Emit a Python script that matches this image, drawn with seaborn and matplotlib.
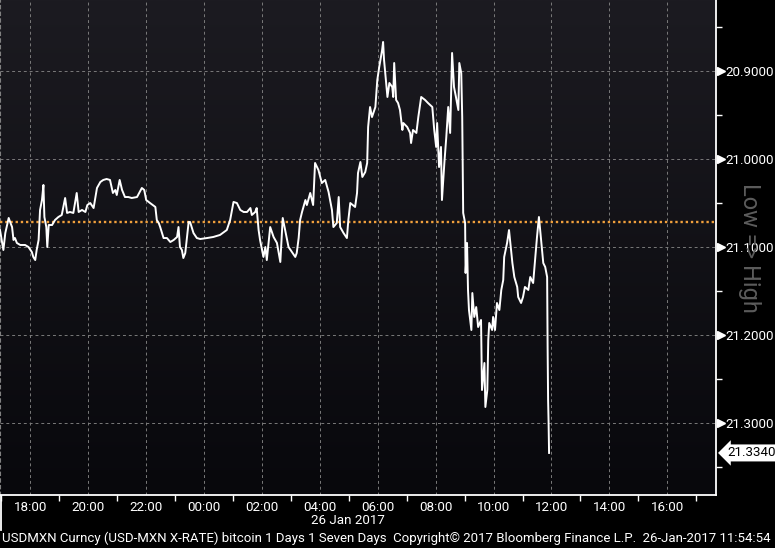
import numpy as np
import pandas as pd
import seaborn as sns
import matplotlib.pyplot as plt
import matplotlib.dates as mdates
from matplotlib.ticker import FixedLocator
from matplotlib.transforms import blended_transform_factory
from matplotlib.colors import LinearSegmentedColormap
from matplotlib.lines import Line2D

plt.rcParams['font.family'] = ['Roboto', 'DejaVu Sans']

# USD-MXN intraday ticks (clock time, 25 Jan evening rolling into 26 Jan)
times = ["16:57", "17:04", "17:08", "17:15", "17:18", "17:22", "17:25", "17:28", "17:32", "17:39",
         "17:49", "17:56", "18:03", "18:06", "18:10", "18:13", "18:17", "18:20", "18:24", "18:27",
         "18:29", "18:33", "18:35", "18:38", "18:45", "18:51", "18:58", "19:05", "19:12", "19:16",
         "19:22", "19:29", "19:36", "19:40", "19:47", "19:54", "19:58", "20:04", "20:11", "20:18",
         "20:25", "20:31", "20:38", "20:45", "20:51", "20:56", "20:59", "21:05", "21:10", "21:16",
         "21:23", "21:30", "21:41", "21:51", "21:56", "22:00", "22:08", "22:19", "22:22", "22:26",
         "22:29", "22:36", "22:43", "22:50", "22:57", "23:04", "23:07", "23:10", "23:14", "23:17",
         "23:21", "23:28", "23:31", "23:38", "23:45", "23:52", "00:06", "00:19", "00:33", "00:47",
         "00:54", "01:01", "01:08", "01:15", "01:22", "01:29", "01:36", "01:39", "01:46", "01:49",
         "01:53", "01:56", "02:03", "02:07", "02:10", "02:17", "02:24", "02:31", "02:38", "02:43",
         "02:48", "02:55", "03:02", "03:09", "03:12", "03:16", "03:19", "03:23", "03:30", "03:33",
         "03:40", "03:46", "03:50", "03:57", "04:04", "04:11", "04:18", "04:25", "04:28", "04:35",
         "04:39", "04:42", "04:49", "04:56", "04:59", "05:03", "05:13", "05:17", "05:19", "05:24",
         "05:28", "05:34", "05:38", "05:40", "05:44", "05:48", "05:55", "05:59", "06:03", "06:09",
         "06:11", "06:13", "06:20", "06:24", "06:30", "06:32", "06:34", "06:38", "06:42", "06:46",
         "06:51", "06:53", "07:01", "07:07", "07:09", "07:13", "07:20", "07:24", "07:30", "07:38",
         "07:44", "07:53", "07:57", "08:01", "08:03", "08:07", "08:11", "08:13", "08:18", "08:22",
         "08:26", "08:30", "08:34", "08:38", "08:42", "08:47", "08:49", "08:53", "08:55", "08:57",
         "09:01", "09:02", "09:05", "09:07", "09:09", "09:14", "09:16", "09:20", "09:24", "09:28",
         "09:34", "09:36", "09:41", "09:43", "09:47", "09:49", "09:51", "09:57", "09:59", "10:03",
         "10:07", "10:12", "10:16", "10:20", "10:22", "10:28", "10:32", "10:39", "10:43", "10:49",
         "10:51", "10:57", "11:01", "11:05", "11:12", "11:16", "11:22", "11:26", "11:30", "11:34",
         "11:39", "11:43", "11:47", "11:51", "11:52", "11:53", "11:54", "11:55"]

rate = [21.0807, 21.1034, 21.0841, 21.0670, 21.0716, 21.0773, 21.0920, 21.0898, 21.0954, 21.0977,
        21.0977, 21.1000, 21.1057, 21.1113, 21.1148, 21.1034, 21.0920, 21.0579, 21.0466, 21.0295,
        21.0659, 21.0773, 21.1000, 21.0750, 21.0750, 21.0693, 21.0659, 21.0636, 21.0443, 21.0613,
        21.0602, 21.0613, 21.0386, 21.0602, 21.0579, 21.0602, 21.0523, 21.0500, 21.0557, 21.0329,
        21.0261, 21.0238, 21.0227, 21.0238, 21.0386, 21.0352, 21.0409, 21.0238, 21.0352, 21.0432,
        21.0432, 21.0443, 21.0432, 21.0329, 21.0352, 21.0466, 21.0500, 21.0545, 21.0693, 21.0727,
        21.0773, 21.0898, 21.0898, 21.0943, 21.0920, 21.0886, 21.0773, 21.1000, 21.1034, 21.1125,
        21.1068, 21.0716, 21.0716, 21.0841, 21.0898, 21.0909, 21.0898, 21.0886, 21.0863, 21.0807,
        21.0693, 21.0488, 21.0500, 21.0579, 21.0602, 21.0602, 21.0557, 21.0636, 21.0602, 21.0557,
        21.0807, 21.0920, 21.1113, 21.1000, 21.1148, 21.0773, 21.0886, 21.0954, 21.1170, 21.0670,
        21.0807, 21.1000, 21.1057, 21.1113, 21.1068, 21.0898, 21.0693, 21.0602, 21.0466, 21.0523,
        21.0386, 21.0523, 21.0045, 21.0125, 21.0273, 21.0238, 21.0375, 21.0579, 21.0773, 21.0727,
        21.0432, 21.0773, 21.0841, 21.0898, 21.0693, 21.0500, 21.0545, 21.0386, 21.0159, 21.0034,
        21.0204, 21.0148, 21.0045, 20.9636, 20.9409, 20.9523, 20.9409, 20.9102, 20.8954, 20.8761,
        20.8670, 20.8875, 20.9295, 20.9136, 20.9182, 20.9295, 20.8909, 20.9329, 20.9363, 20.9443,
        20.9670, 20.9591, 20.9636, 20.9704, 20.9818, 20.9670, 20.9704, 20.9523, 20.9295, 20.9329,
        20.9363, 20.9409, 20.9670, 20.9863, 20.9591, 21.0091, 20.9863, 21.0466, 21.0045, 20.9750,
        20.9409, 20.9704, 20.8795, 20.9182, 20.9295, 20.9443, 20.8909, 20.9023, 20.9523, 21.0613,
        21.0727, 21.1295, 21.0954, 21.1488, 21.1716, 21.1943, 21.1523, 21.1795, 21.1682, 21.1909,
        21.1829, 21.2625, 21.2318, 21.2818, 21.2625, 21.2057, 21.1863, 21.1943, 21.1795, 21.1943,
        21.1636, 21.1716, 21.1488, 21.1375, 21.1113, 21.0954, 21.0807, 21.1182, 21.1341, 21.1454,
        21.1568, 21.1636, 21.1568, 21.1454, 21.1488, 21.1341, 21.1409, 21.1148, 21.0886, 21.0659,
        21.0954, 21.1182, 21.1227, 21.1341, 21.2136, 21.2738, 21.2988, 21.3340]

prev_close = 21.0716
last_price = 21.3340
y_ticks = [20.9, 21.0, 21.1, 21.2, 21.3]
y_minor = [20.85, 20.95, 21.05, 21.15, 21.25, 21.35]
y_range = (21.3818, 20.8193)           # inverted axis: Low => High
x_range = ("2017-01-25 16:57", "2017-01-26 17:41")
date_label = "26 Jan 2017"
side_label = "Low => High"
footer = ("USDMXN Curncy (USD-MXN X-RATE) bitcoin 1 Days 1 Seven Days  "
          "Copyright\u00a9 2017 Bloomberg Finance L.P.  26-Jan-2017 11:54:54")

# build timestamps, stepping to the next day when the clock wraps
stamps = []
day = pd.Timestamp("2017-01-25")
last_h = None
for t in times:
    h, m = map(int, t.split(":"))
    if last_h is not None and h < last_h:
        day += pd.Timedelta(days=1)
    last_h = h
    stamps.append(day + pd.Timedelta(hours=h, minutes=m))
df = pd.DataFrame({"time": stamps, "rate": rate})

W, H = 775, 548
fig = plt.figure(figsize=(W / 100, H / 100), dpi=100, facecolor="black")
ax = fig.add_axes([0, 1 - 495 / H, 716 / W, 495 / H])

sns.lineplot(data=df, x="time", y="rate", ax=ax, color="white", linewidth=1.4,
             estimator=None, legend=False, zorder=5)

ax.axhline(prev_close, color="#f0a03c", linestyle=(0, (1, 1.2)), linewidth=1.7, zorder=4)

# dark vertical gradient background
bg = LinearSegmentedColormap.from_list("bg", ["#1c1b21", "#08080c"])
ax.imshow(np.linspace(0, 1, 256).reshape(-1, 1), cmap=bg, extent=[0, 1, 0, 1],
          transform=ax.transAxes, aspect="auto", zorder=0)

ax.set_xlim(pd.Timestamp(x_range[0]), pd.Timestamp(x_range[1]))
ax.set_ylim(*y_range)
ax.set_xlabel("")
ax.set_ylabel("")

# x axis
ax.xaxis.set_major_locator(mdates.HourLocator(byhour=range(0, 24, 2)))
ax.xaxis.set_minor_locator(mdates.HourLocator(byhour=range(1, 24, 2)))
ax.xaxis.set_major_formatter(mdates.DateFormatter("%H:%M"))
ax.tick_params(axis="x", which="major", length=0, pad=4, labelcolor="white", labelsize=9.6)
ax.tick_params(axis="x", which="minor", length=4, width=1, color="white", direction="out")

# y axis on the right
ax.yaxis.tick_right()
ax.set_yticks(y_ticks)
ax.set_yticklabels([f"{v:.4f}" for v in y_ticks])
ax.yaxis.set_minor_locator(FixedLocator(y_minor))
ax.tick_params(axis="y", which="major", length=0, pad=7, labelcolor="white", labelsize=9.6)
ax.tick_params(axis="y", which="minor", length=4, width=1, color="white", direction="out")

ax.grid(True, which="major", color="#7a7a7a", linestyle=(0, (3, 3)), linewidth=0.7, zorder=1)
ax.set_axisbelow(True)

ax.spines["top"].set_visible(False)
ax.spines["left"].set_color("#808080")
ax.spines["left"].set_linestyle((0, (3, 3)))
ax.spines["bottom"].set_color("white")
ax.spines["bottom"].set_linewidth(1.3)
ax.spines["right"].set_color("white")
ax.spines["right"].set_linewidth(1.3)

trans = blended_transform_factory(ax.transAxes, ax.transData)
for v in y_ticks:
    ax.plot(1.007, v, marker=">", markersize=5.5, color="white", transform=trans,
            clip_on=False, zorder=6)

ax.text(1.0155, last_price, f"{last_price:.4f}", transform=trans, ha="left", va="center",
        color="black", fontsize=9.6,
        bbox=dict(boxstyle="larrow,pad=0.15", fc="white", ec="none"), clip_on=False)

fig.text(750 / W, 1 - 248 / H, side_label, rotation=-90, ha="center", va="center",
         color="#5c5c5c", fontsize=17)
fig.text(348 / W, 1 - 521 / H, date_label, ha="center", va="center", color="white",
         fontsize=9.6)
fig.text(2 / W, 1 - 538 / H, footer, ha="left", va="center", color="white", fontsize=9.55)
fig.add_artist(Line2D([0.6 / W, 0.6 / W], [1 - 496 / H, 1 - 530 / H], color="white",
                      linewidth=1.3))

fig.savefig("out.png", dpi=100, facecolor="black")
